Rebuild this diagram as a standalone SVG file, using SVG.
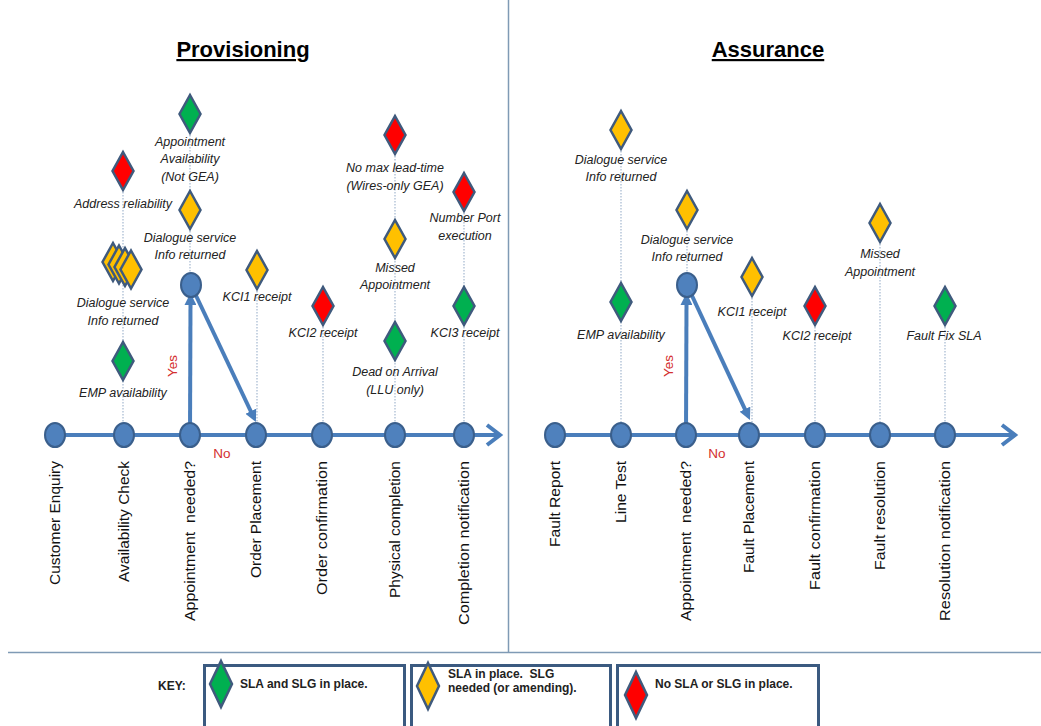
<svg xmlns="http://www.w3.org/2000/svg" width="1041" height="726" viewBox="0 0 1041 726">
<style>
.div{stroke:#7f9ab5;stroke-width:1.5;fill:none}
.title{font-family:"Liberation Sans",Arial,sans-serif;font-weight:bold;font-size:22px;text-decoration:underline;fill:#000;text-anchor:middle}
.node{fill:#4f81bd;stroke:#3a5f8c;stroke-width:2}
.axis{stroke:#4a7ebb;stroke-width:4;fill:none}
.chev{stroke:#4a7ebb;stroke-width:4;fill:none;stroke-linejoin:miter}
.flow{stroke:#4a7ebb;stroke-width:4;fill:none}
.dot{stroke:#a3b7cf;stroke-width:1.2;stroke-dasharray:1.5 1.5;fill:none}
.dm{stroke:#3f5a7d;stroke-width:2.5}
.g{fill:#00b050}.y{fill:#ffc000}.r{fill:#ff0000}
.lab{font-family:"Liberation Sans",Arial,sans-serif;font-size:15.5px;fill:#111;text-anchor:end;white-space:pre}
.it{font-family:"Liberation Sans",Arial,sans-serif;font-style:italic;font-size:12.5px;fill:#222;text-anchor:middle}
.red{font-family:"Liberation Sans",Arial,sans-serif;font-size:13.5px;fill:#d42f2f;text-anchor:middle}
.key{font-family:"Liberation Sans",Arial,sans-serif;font-weight:bold;font-size:12px;fill:#222;white-space:pre}
.kbox{fill:none;stroke:#3b5a80;stroke-width:3}
</style>
<defs>
<path id="dia" d="M0,-19 L10.5,0 L0,19 L-10.5,0 Z"/>
<path id="dia2" d="M0,-23 L11,0 L0,23 L-11,0 Z"/>
<marker id="ah" viewBox="0 0 10 10" refX="3" refY="5" markerWidth="3" markerHeight="3" orient="auto" markerUnits="strokeWidth">
<path d="M0,0 L10,5 L0,10 Z" fill="#4a7ebb"/>
</marker>
</defs>
<rect width="1041" height="726" fill="#fff"/>
<g id="frame">
<line class="div" x1="508.5" y1="0" x2="508.5" y2="652"/>
<line class="div" x1="8" y1="652.5" x2="1041" y2="652.5"/>
</g>
<text class="title" x="243" y="57">Provisioning</text>
<text class="title" x="768" y="57">Assurance</text>

<g id="connectors">
<line class="axis" x1="55" y1="435" x2="499" y2="435"/>
<polyline class="chev" points="487,425 500,435 487,445"/>
<line class="axis" x1="555" y1="435" x2="1014" y2="435"/>
<polyline class="chev" points="1002,425 1015,435 1002,445"/>
<line class="dot" x1="123" y1="171" x2="123" y2="435"/>
<line class="dot" x1="190" y1="114" x2="190" y2="285"/>
<line class="dot" x1="257" y1="270" x2="257" y2="435"/>
<line class="dot" x1="323" y1="306" x2="323" y2="435"/>
<line class="dot" x1="395" y1="135" x2="395" y2="435"/>
<line class="dot" x1="464" y1="192" x2="464" y2="435"/>
<line class="dot" x1="621" y1="130" x2="621" y2="435"/>
<line class="dot" x1="687" y1="210" x2="687" y2="285"/>
<line class="dot" x1="752" y1="277" x2="752" y2="435"/>
<line class="dot" x1="815" y1="306" x2="815" y2="435"/>
<line class="dot" x1="880" y1="223" x2="880" y2="435"/>
<line class="dot" x1="945" y1="306" x2="945" y2="435"/>
<line class="flow" x1="190" y1="435" x2="190.5" y2="301.5" marker-end="url(#ah)"/>
<line class="flow" x1="191" y1="285" x2="252.3" y2="414.5" marker-end="url(#ah)"/>
<line class="flow" x1="686" y1="435" x2="686.5" y2="301.5" marker-end="url(#ah)"/>
<line class="flow" x1="687" y1="285" x2="746.4" y2="412.4" marker-end="url(#ah)"/>
<text class="red" transform="translate(177,366) rotate(-90)">Yes</text>
<text class="red" x="222" y="458">No</text>
<text class="red" transform="translate(673,366) rotate(-90)">Yes</text>
<text class="red" x="717" y="458">No</text>
</g>

<g id="p-customer-enquiry"><ellipse class="node" cx="55" cy="435" rx="10" ry="12"/><text class="lab" transform="translate(60,461) rotate(-90)" textLength="124" lengthAdjust="spacingAndGlyphs">Customer Enquiry</text></g>
<g id="p-availability-check"><ellipse class="node" cx="124" cy="435" rx="10" ry="12"/><text class="lab" transform="translate(129,461) rotate(-90)" textLength="121" lengthAdjust="spacingAndGlyphs">Availability Check</text></g>
<g id="p-appointment-needed"><ellipse class="node" cx="190" cy="435" rx="10" ry="12"/><text class="lab" transform="translate(195,461) rotate(-90)" textLength="160" lengthAdjust="spacingAndGlyphs">Appointment  needed?</text></g>
<g id="p-appointment-circle"><ellipse class="node" cx="191" cy="285" rx="10" ry="12"/></g>
<g id="p-order-placement"><ellipse class="node" cx="256" cy="435" rx="10" ry="12"/><text class="lab" transform="translate(261,461) rotate(-90)" textLength="117" lengthAdjust="spacingAndGlyphs">Order Placement</text></g>
<g id="p-order-confirmation"><ellipse class="node" cx="322" cy="435" rx="10" ry="12"/><text class="lab" transform="translate(327,461) rotate(-90)" textLength="134" lengthAdjust="spacingAndGlyphs">Order confirmation</text></g>
<g id="p-physical-completion"><ellipse class="node" cx="395" cy="435" rx="10" ry="12"/><text class="lab" transform="translate(400,461) rotate(-90)" textLength="137" lengthAdjust="spacingAndGlyphs">Physical completion</text></g>
<g id="p-completion-notification"><ellipse class="node" cx="464" cy="435" rx="10" ry="12"/><text class="lab" transform="translate(469,461) rotate(-90)" textLength="164" lengthAdjust="spacingAndGlyphs">Completion notification</text></g>

<g id="a-fault-report"><ellipse class="node" cx="555" cy="435" rx="10" ry="12"/><text class="lab" transform="translate(560,461) rotate(-90)" textLength="86" lengthAdjust="spacingAndGlyphs">Fault Report</text></g>
<g id="a-line-test"><ellipse class="node" cx="621" cy="435" rx="10" ry="12"/><text class="lab" transform="translate(626,461) rotate(-90)" textLength="62" lengthAdjust="spacingAndGlyphs">Line Test</text></g>
<g id="a-appointment-needed"><ellipse class="node" cx="686" cy="435" rx="10" ry="12"/><text class="lab" transform="translate(691,461) rotate(-90)" textLength="160" lengthAdjust="spacingAndGlyphs">Appointment  needed?</text></g>
<g id="a-appointment-circle"><ellipse class="node" cx="687" cy="285" rx="10" ry="12"/></g>
<g id="a-fault-placement"><ellipse class="node" cx="749" cy="435" rx="10" ry="12"/><text class="lab" transform="translate(754,461) rotate(-90)" textLength="112" lengthAdjust="spacingAndGlyphs">Fault Placement</text></g>
<g id="a-fault-confirmation"><ellipse class="node" cx="815" cy="435" rx="10" ry="12"/><text class="lab" transform="translate(820,461) rotate(-90)" textLength="129" lengthAdjust="spacingAndGlyphs">Fault confirmation</text></g>
<g id="a-fault-resolution"><ellipse class="node" cx="880" cy="435" rx="10" ry="12"/><text class="lab" transform="translate(885,461) rotate(-90)" textLength="109" lengthAdjust="spacingAndGlyphs">Fault resolution</text></g>
<g id="a-resolution-notification"><ellipse class="node" cx="945" cy="435" rx="10" ry="12"/><text class="lab" transform="translate(950,461) rotate(-90)" textLength="160" lengthAdjust="spacingAndGlyphs">Resolution notification</text></g>

<g id="m-appt-availability"><use href="#dia" class="dm g" x="190" y="114"/><text class="it" x="190" y="146">Appointment</text><text class="it" x="190" y="163">Availability</text><text class="it" x="190" y="181">(Not GEA)</text></g>
<g id="m-dialogue-p2"><use href="#dia" class="dm y" x="190" y="210"/><text class="it" x="190" y="242">Dialogue service</text><text class="it" x="190" y="259">Info returned</text></g>
<g id="m-address"><use href="#dia" class="dm r" x="123" y="171"/><text class="it" x="123" y="208">Address reliability</text></g>
<g id="m-dialogue-p1"><use href="#dia" class="dm y" x="113" y="262"/><use href="#dia" class="dm y" x="119" y="264.5"/><use href="#dia" class="dm y" x="125" y="267"/><use href="#dia" class="dm y" x="131" y="269.5"/><text class="it" x="123" y="307">Dialogue service</text><text class="it" x="123" y="325">Info returned</text></g>
<g id="m-emp-p"><use href="#dia" class="dm g" x="123" y="361"/><text class="it" x="123" y="397">EMP availability</text></g>
<g id="m-kci1-p"><use href="#dia" class="dm y" x="257" y="270"/><text class="it" x="257" y="301">KCI1 receipt</text></g>
<g id="m-kci2-p"><use href="#dia" class="dm r" x="323" y="306"/><text class="it" x="323" y="337">KCI2 receipt</text></g>
<g id="m-lead-time"><use href="#dia" class="dm r" x="395" y="135"/><text class="it" x="395" y="172">No max lead-time</text><text class="it" x="395" y="190">(Wires-only GEA)</text></g>
<g id="m-missed-p"><use href="#dia" class="dm y" x="395" y="239"/><text class="it" x="395" y="272">Missed</text><text class="it" x="395" y="289">Appointment</text></g>
<g id="m-doa"><use href="#dia" class="dm g" x="395" y="341"/><text class="it" x="395" y="376">Dead on Arrival</text><text class="it" x="395" y="394">(LLU only)</text></g>
<g id="m-number-port"><use href="#dia" class="dm r" x="464" y="192"/><text class="it" x="465" y="222">Number Port</text><text class="it" x="465" y="240">execution</text></g>
<g id="m-kci3-p"><use href="#dia" class="dm g" x="464" y="306"/><text class="it" x="465" y="337">KCI3 receipt</text></g>

<g id="m-dialogue-a1"><use href="#dia" class="dm y" x="621" y="130"/><text class="it" x="621" y="164">Dialogue service</text><text class="it" x="621" y="181">Info returned</text></g>
<g id="m-emp-a"><use href="#dia" class="dm g" x="621" y="302"/><text class="it" x="621" y="339">EMP availability</text></g>
<g id="m-dialogue-a2"><use href="#dia" class="dm y" x="687" y="210"/><text class="it" x="687" y="244">Dialogue service</text><text class="it" x="687" y="261">Info returned</text></g>
<g id="m-kci1-a"><use href="#dia" class="dm y" x="752" y="277"/><text class="it" x="752" y="316">KCI1 receipt</text></g>
<g id="m-kci2-a"><use href="#dia" class="dm r" x="815" y="306"/><text class="it" x="817" y="340">KCI2 receipt</text></g>
<g id="m-missed-a"><use href="#dia" class="dm y" x="880" y="223"/><text class="it" x="880" y="258">Missed</text><text class="it" x="880" y="276">Appointment</text></g>
<g id="m-fault-fix"><use href="#dia" class="dm g" x="945" y="306"/><text class="it" x="944" y="340">Fault Fix SLA</text></g>

<g id="key">
<text class="key" x="158" y="690">KEY:</text>
<g id="key-green"><rect class="kbox" x="204.5" y="665.5" width="200" height="80"/><use href="#dia2" class="dm g" x="221" y="684"/><text class="key" x="240" y="688">SLA and SLG in place.</text></g>
<g id="key-yellow"><rect class="kbox" x="411.5" y="665.5" width="199" height="80"/><use href="#dia2" class="dm y" x="428" y="686"/><text class="key" x="448" y="678">SLA in place.  SLG</text><text class="key" x="448" y="692">needed (or amending).</text></g>
<g id="key-red"><rect class="kbox" x="617.5" y="665.5" width="201" height="80"/><use href="#dia2" class="dm r" x="636" y="695"/><text class="key" x="655" y="688">No SLA or SLG in place.</text></g>
</g>
</svg>
